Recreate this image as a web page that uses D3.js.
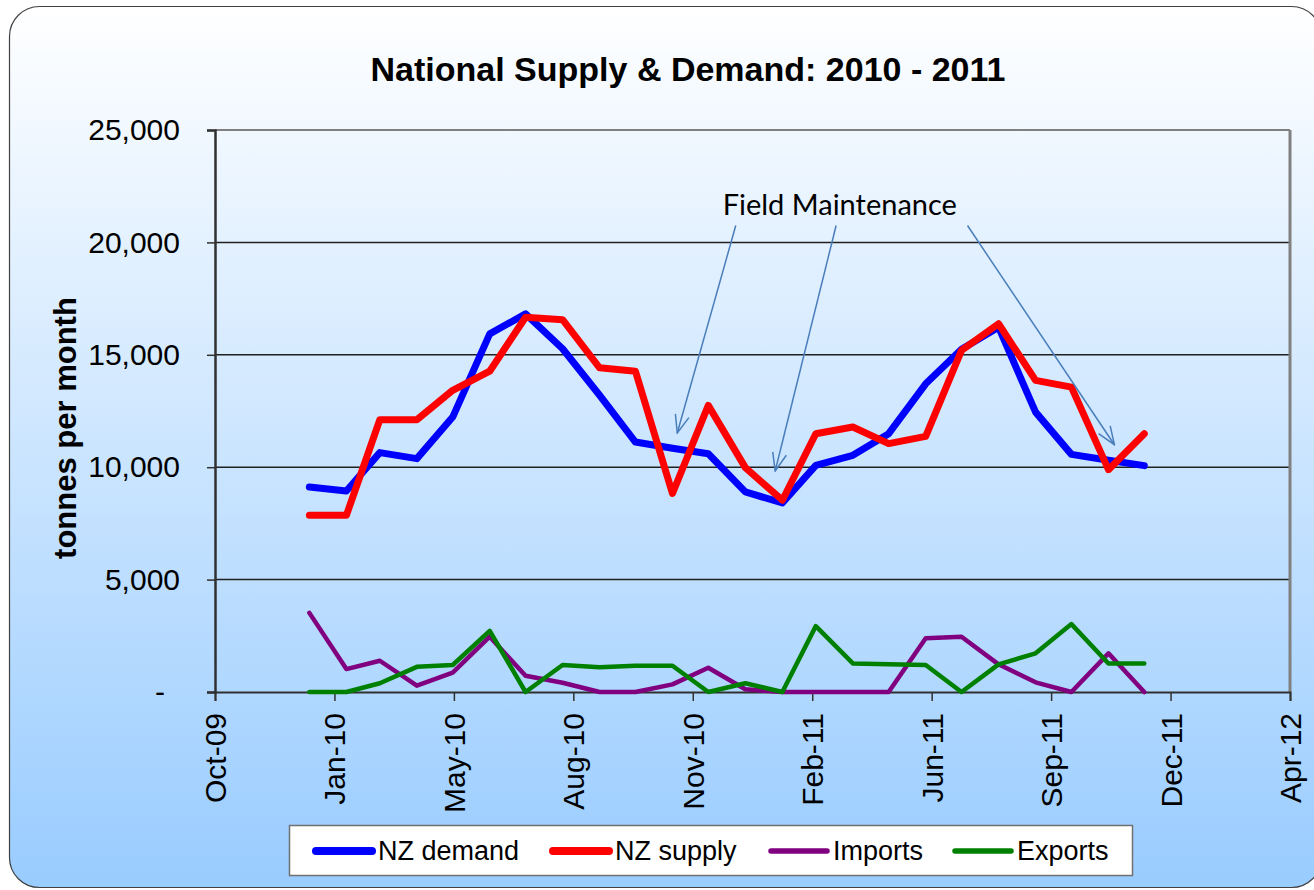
<!DOCTYPE html>
<html>
<head>
<meta charset="utf-8">
<script src="https://cdn.jsdelivr.net/npm/d3@7"></script>
<style>
  html, body { margin: 0; padding: 0; background: #fff; }
  svg { display: block; }
</style>
</head>
<body>
<figure id="chart" style="margin:0"></figure>
<script>
// monthly values, tonnes per month
var months = ["2010-01","2010-02","2010-03","2010-04","2010-05","2010-06","2010-07","2010-08","2010-09","2010-10","2010-11","2010-12",
              "2011-01","2011-02","2011-03","2011-04","2011-05","2011-06","2011-07","2011-08","2011-09","2011-10","2011-11","2011-12"];
var nzDemand = [9120, 8940, 10650, 10380, 12230, 15930, 16820, 15270, 13200, 11120, 10840, 10600,
                8900, 8410, 10080, 10530, 11490, 13710, 15250, 16230, 12450, 10570, 10310, 10070];
var nzSupply = [7860, 7860, 12110, 12110, 13420, 14270, 16670, 16560, 14420, 14270, 8830, 12750,
                9980, 8530, 11490, 11790, 11050, 11370, 15200, 16380, 13860, 13560, 9890, 11490];
var imports  = [3520, 1020, 1390, 280, 860, 2460, 720, 410, 0, 0, 340, 1080,
                120, 0, 0, 0, 0, 2390, 2460, 1230, 430, 0, 1720, 0];
var exports  = [0, 0, 390, 1120, 1200, 2720, 0, 1200, 1100, 1170, 1170, 0,
                390, 0, 2930, 1270, 1230, 1200, 0, 1230, 1720, 3020, 1270, 1270];

var xDomain = ["2009-10-14", "2012-04-01"];
var xTicks = ["2009-10-14","2010-01-22","2010-05-02","2010-08-10","2010-11-18","2011-02-26","2011-06-06","2011-09-14","2011-12-23","2012-04-01"];
var yTicks = [0, 5000, 10000, 15000, 20000, 25000];

// "Field Maintenance" arrows: [from date, from value, to date, to value]
var noteText = "Field Maintenance";
var noteAt = ["2010-12-13", 21230];
var noteArrows = [
  ["2010-12-24", 20750, "2010-11-05", 11520],
  ["2011-03-18", 20750, "2011-01-26", 9830],
  ["2011-07-06", 20750, "2011-11-06", 11000]
];

var series = [
  { name: "NZ demand", values: nzDemand, color: "#0000ff", width: 7 },
  { name: "NZ supply", values: nzSupply, color: "#ff0000", width: 7 },
  { name: "Imports",   values: imports,  color: "#800080", width: 4.5 },
  { name: "Exports",   values: exports,  color: "#008000", width: 4.5 }
];

var W = 1314, H = 890;
var plotLeft = 215, plotRight = 1290, plotTop = 130, plotBottom = 692;
var font = "'Liberation Sans', Arial, sans-serif";
var parse = d3.utcParse("%Y-%m-%d");
var parseMonth = d3.utcParse("%Y-%m");

var svg = d3.select("#chart").append("svg")
  .attr("width", W).attr("height", H)
  .style("font-family", font);

var defs = svg.append("defs");
var grad = defs.append("linearGradient").attr("id", "bg")
  .attr("x1", 0).attr("y1", 0).attr("x2", 0).attr("y2", 1);
grad.append("stop").attr("offset", "0%").attr("stop-color", "#ffffff");
grad.append("stop").attr("offset", "100%").attr("stop-color", "#99ccff");

defs.append("marker").attr("id", "arrow")
  .attr("viewBox", "0 0 20 16").attr("refX", 19).attr("refY", 8)
  .attr("markerWidth", 20).attr("markerHeight", 16)
  .attr("markerUnits", "userSpaceOnUse").attr("orient", "auto")
  .append("path").attr("d", "M1,1 L19,8 L1,15")
  .attr("fill", "none").attr("stroke", "#4a7ebb").attr("stroke-width", 1.5);

// chart frame
svg.append("rect")
  .attr("x", 9.5).attr("y", 6.5).attr("width", 1312).attr("height", 881)
  .attr("rx", 30).attr("ry", 30)
  .attr("fill", "url(#bg)").attr("stroke", "#404040").attr("stroke-width", 1.2);

var x = d3.scaleUtc().domain(xDomain.map(parse)).range([plotLeft, plotRight]);
var y = d3.scaleLinear().domain([0, 25000]).range([plotBottom, plotTop]);

// gridlines
svg.append("g").selectAll("line")
  .data(yTicks.filter(function(d) { return d > 0 && d < 25000; }))
  .join("line")
  .attr("x1", plotLeft).attr("x2", plotRight)
  .attr("y1", function(d) { return y(d); }).attr("y2", function(d) { return y(d); })
  .attr("stroke", "#202020").attr("stroke-width", 1.5);

// plot area top / right border
svg.append("line").attr("x1", plotLeft).attr("x2", plotRight).attr("y1", y(25000)).attr("y2", y(25000))
  .attr("stroke", "#808080").attr("stroke-width", 2);
svg.append("line").attr("x1", plotRight).attr("x2", plotRight).attr("y1", plotTop).attr("y2", plotBottom)
  .attr("stroke", "#808080").attr("stroke-width", 3);

// y axis
var yAxis = svg.append("g")
  .attr("transform", "translate(" + plotLeft + ",0)")
  .call(d3.axisLeft(y).tickValues(yTicks).tickSize(8).tickPadding(27)
    .tickFormat(function(d) { return d === 0 ? "-" : d3.format(",")(d); }));
yAxis.select(".domain").attr("stroke", "#303030").attr("stroke-width", 2.5);
yAxis.selectAll(".tick line").attr("stroke", "#303030").attr("stroke-width", 1.5);
yAxis.selectAll(".tick text").attr("font-size", 30).attr("font-family", font).attr("fill", "#000");
yAxis.selectAll(".tick").filter(function(d) { return d === 0; }).select("text").attr("x", -50);

// x axis
var xAxis = svg.append("g")
  .attr("transform", "translate(0," + plotBottom + ")")
  .call(d3.axisBottom(x).tickValues(xTicks.map(parse)).tickSize(9)
    .tickFormat(d3.utcFormat("%b-%y")));
xAxis.select(".domain").attr("stroke", "#303030").attr("stroke-width", 2);
xAxis.selectAll(".tick line").attr("stroke", "#303030").attr("stroke-width", 1.5);
xAxis.selectAll(".tick text")
  .attr("font-size", 30).attr("font-family", font).attr("fill", "#000")
  .attr("text-anchor", "end").attr("dy", "0.35em")
  .attr("x", -21).attr("y", 0)
  .attr("transform", "rotate(-90)");

// lines, drawn in series order so later ones sit on top
var line = d3.line()
  .x(function(d, i) { return x(parseMonth(months[i])); })
  .y(function(d) { return y(d); });

svg.append("g").selectAll("path")
  .data(series)
  .join("path")
  .attr("d", function(s) { return line(s.values); })
  .attr("fill", "none")
  .attr("stroke", function(s) { return s.color; })
  .attr("stroke-width", function(s) { return s.width; })
  .attr("stroke-linejoin", "round")
  .attr("stroke-linecap", "round");

// annotation
svg.append("g").selectAll("line")
  .data(noteArrows)
  .join("line")
  .attr("x1", function(d) { return x(parse(d[0])); })
  .attr("y1", function(d) { return y(d[1]); })
  .attr("x2", function(d) { return x(parse(d[2])); })
  .attr("y2", function(d) { return y(d[3]); })
  .attr("stroke", "#4a7ebb").attr("stroke-width", 1.5)
  .attr("marker-end", "url(#arrow)");

svg.append("text")
  .attr("x", x(parse(noteAt[0]))).attr("y", y(noteAt[1]))
  .attr("font-family", "Lato, 'Open Sans', sans-serif").attr("font-size", 29)
  .text(noteText);

// title
svg.append("text")
  .attr("x", 688).attr("y", 81).attr("text-anchor", "middle")
  .attr("font-size", 34).attr("font-weight", "bold")
  .text("National Supply & Demand: 2010 - 2011");

// y label
svg.append("text")
  .attr("transform", "translate(76,428) rotate(-90)")
  .attr("text-anchor", "middle")
  .attr("font-size", 31).attr("font-weight", "bold")
  .text("tonnes per month");

// legend
var legend = svg.append("g");
legend.append("rect")
  .attr("x", 289.5).attr("y", 825.5).attr("width", 843).attr("height", 50)
  .attr("fill", "#fff").attr("stroke", "#707070").attr("stroke-width", 1.5);

var legendX = [316, 553, 771, 955];
var item = legend.selectAll("g.item")
  .data(series)
  .join("g").attr("class", "item")
  .attr("transform", function(d, i) { return "translate(" + legendX[i] + ",851)"; });
item.append("line")
  .attr("x1", 0).attr("x2", 56)
  .attr("stroke", function(d) { return d.color; })
  .attr("stroke-width", function(d) { return d.width + 1; })
  .attr("stroke-linecap", "round");
item.append("text")
  .attr("x", 62).attr("dy", "0.35em")
  .attr("font-size", 27)
  .text(function(d) { return d.name; });
</script>
</body>
</html>
